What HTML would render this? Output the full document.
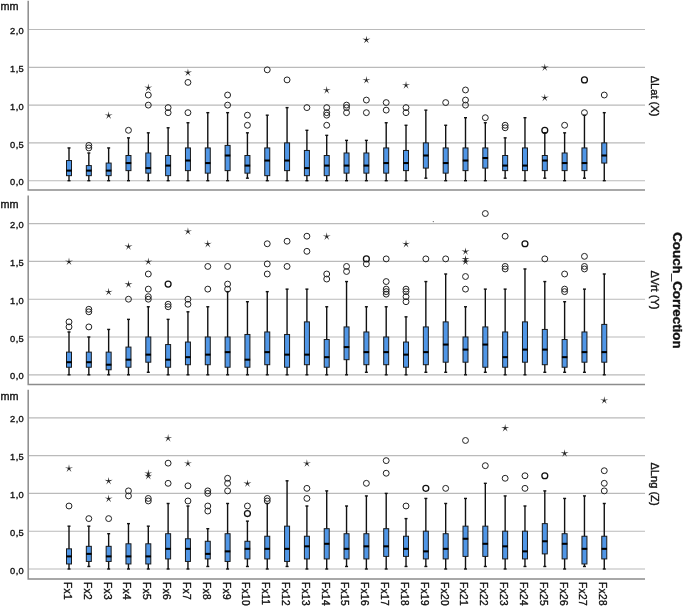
<!DOCTYPE html>
<html lang="en"><head><meta charset="utf-8"><title>Couch_Correction box plots</title>
<style>html,body{margin:0;padding:0;background:#fff}svg{display:block}text{font-family:"Liberation Sans","DejaVu Sans",sans-serif;fill:#111;stroke:#111;stroke-width:0.35}.g{stroke:#bababa;stroke-width:1.15}.ax{stroke:#8c8c8c;stroke-width:1.5;fill:none}.w{stroke:#111;stroke-width:1.4}.cap{stroke:#111;stroke-width:1.4}.b{fill:#5096e6;stroke:#1a1a1a;stroke-width:1}.m{stroke:#000;stroke-width:2.05}.c{fill:none;stroke:#222;stroke-width:1}.cb{stroke:#111;stroke-width:1.3}.st{fill:#222}.t{font-size:9.3px;text-anchor:end;letter-spacing:0.4px}.u{font-size:10.8px}.fx{font-size:10.2px;letter-spacing:0.3px}.pl{font-size:11.1px;text-anchor:middle}.ti{font-size:13.35px;font-weight:bold;text-anchor:middle}</style></head><body>
<svg width="685" height="606" viewBox="0 0 685 606">
<rect width="685" height="606" fill="#fff"/>
<line class="g" x1="28.2" y1="180.70" x2="645.0" y2="180.70"/>
<text class="t" x="24.2" y="185.30">0,0</text>
<line class="g" x1="28.2" y1="142.90" x2="645.0" y2="142.90"/>
<text class="t" x="24.2" y="147.50">0,5</text>
<line class="g" x1="28.2" y1="105.10" x2="645.0" y2="105.10"/>
<text class="t" x="24.2" y="109.70">1,0</text>
<line class="g" x1="28.2" y1="67.30" x2="645.0" y2="67.30"/>
<text class="t" x="24.2" y="71.90">1,5</text>
<line class="g" x1="28.2" y1="29.50" x2="645.0" y2="29.50"/>
<text class="t" x="24.2" y="34.10">2,0</text>
<text class="u" x="0.6" y="9.6">mm</text>
<path class="ax" d="M28.2 0.7 V190.1 H645.0"/>
<text class="pl" transform="translate(651.4 96.0) rotate(90)">ΔLat (X)</text>
<line class="w" x1="69.00" y1="180.70" x2="69.00" y2="147.94"/>
<line class="cap" x1="67.50" y1="180.70" x2="70.50" y2="180.70"/>
<line class="cap" x1="67.50" y1="147.94" x2="70.50" y2="147.94"/>
<rect class="b" x="66.50" y="160.54" width="5" height="15.12"/>
<line class="m" x1="66.25" y1="170.62" x2="71.75" y2="170.62"/>
<line class="w" x1="88.83" y1="180.70" x2="88.83" y2="152.98"/>
<line class="cap" x1="87.33" y1="180.70" x2="90.33" y2="180.70"/>
<line class="cap" x1="87.33" y1="152.98" x2="90.33" y2="152.98"/>
<rect class="b" x="86.33" y="165.58" width="5" height="10.08"/>
<line class="m" x1="86.08" y1="170.62" x2="91.58" y2="170.62"/>
<circle class="c" cx="88.83" cy="147.94" r="2.95"/>
<circle class="c" cx="88.83" cy="145.42" r="2.95"/>
<line class="w" x1="108.65" y1="180.70" x2="108.65" y2="147.94"/>
<line class="cap" x1="107.15" y1="180.70" x2="110.15" y2="180.70"/>
<line class="cap" x1="107.15" y1="147.94" x2="110.15" y2="147.94"/>
<rect class="b" x="106.15" y="163.06" width="5" height="12.60"/>
<line class="m" x1="105.90" y1="170.62" x2="111.40" y2="170.62"/>
<polygon class="st" points="108.65,111.28 109.24,114.67 112.64,114.18 109.60,115.79 111.12,118.88 108.65,116.48 106.18,118.88 107.70,115.79 104.66,114.18 108.06,114.67"/>
<line class="w" x1="128.47" y1="180.70" x2="128.47" y2="137.86"/>
<line class="cap" x1="126.97" y1="180.70" x2="129.97" y2="180.70"/>
<line class="cap" x1="126.97" y1="137.86" x2="129.97" y2="137.86"/>
<rect class="b" x="125.97" y="155.50" width="5" height="15.12"/>
<line class="m" x1="125.72" y1="163.06" x2="131.22" y2="163.06"/>
<circle class="c" cx="128.47" cy="130.30" r="2.95"/>
<line class="w" x1="148.30" y1="180.70" x2="148.30" y2="132.82"/>
<line class="cap" x1="146.80" y1="180.70" x2="149.80" y2="180.70"/>
<line class="cap" x1="146.80" y1="132.82" x2="149.80" y2="132.82"/>
<rect class="b" x="145.80" y="152.98" width="5" height="20.16"/>
<line class="m" x1="145.55" y1="168.10" x2="151.05" y2="168.10"/>
<circle class="c" cx="148.30" cy="105.10" r="2.95"/>
<circle class="c" cx="148.30" cy="95.02" r="2.95"/>
<polygon class="st" points="148.30,83.56 148.89,86.95 152.29,86.46 149.25,88.07 150.77,91.16 148.30,88.76 145.83,91.16 147.35,88.07 144.31,86.46 147.71,86.95"/>
<line class="w" x1="168.12" y1="180.70" x2="168.12" y2="127.78"/>
<line class="cap" x1="166.62" y1="180.70" x2="169.62" y2="180.70"/>
<line class="cap" x1="166.62" y1="127.78" x2="169.62" y2="127.78"/>
<rect class="b" x="165.62" y="155.50" width="5" height="20.16"/>
<line class="m" x1="165.38" y1="165.58" x2="170.88" y2="165.58"/>
<circle class="c" cx="168.12" cy="112.66" r="2.95"/>
<circle class="c" cx="168.12" cy="107.62" r="2.95"/>
<line class="w" x1="187.95" y1="180.70" x2="187.95" y2="122.74"/>
<line class="cap" x1="186.45" y1="180.70" x2="189.45" y2="180.70"/>
<line class="cap" x1="186.45" y1="122.74" x2="189.45" y2="122.74"/>
<rect class="b" x="185.45" y="147.94" width="5" height="22.68"/>
<line class="m" x1="185.20" y1="160.54" x2="190.70" y2="160.54"/>
<circle class="c" cx="187.95" cy="112.66" r="2.95"/>
<circle class="c" cx="187.95" cy="82.42" r="2.95"/>
<polygon class="st" points="187.95,68.44 188.54,71.83 191.94,71.34 188.90,72.95 190.42,76.04 187.95,73.64 185.48,76.04 187.00,72.95 183.96,71.34 187.36,71.83"/>
<line class="w" x1="207.78" y1="180.70" x2="207.78" y2="112.66"/>
<line class="cap" x1="206.28" y1="180.70" x2="209.28" y2="180.70"/>
<line class="cap" x1="206.28" y1="112.66" x2="209.28" y2="112.66"/>
<rect class="b" x="205.28" y="147.94" width="5" height="25.20"/>
<line class="m" x1="205.03" y1="163.06" x2="210.53" y2="163.06"/>
<line class="w" x1="227.60" y1="180.70" x2="227.60" y2="112.66"/>
<line class="cap" x1="226.10" y1="180.70" x2="229.10" y2="180.70"/>
<line class="cap" x1="226.10" y1="112.66" x2="229.10" y2="112.66"/>
<rect class="b" x="225.10" y="145.42" width="5" height="25.20"/>
<line class="m" x1="224.85" y1="155.50" x2="230.35" y2="155.50"/>
<circle class="c" cx="227.60" cy="105.10" r="2.95"/>
<circle class="c" cx="227.60" cy="95.02" r="2.95"/>
<line class="w" x1="247.42" y1="178.18" x2="247.42" y2="132.82"/>
<line class="cap" x1="245.92" y1="178.18" x2="248.92" y2="178.18"/>
<line class="cap" x1="245.92" y1="132.82" x2="248.92" y2="132.82"/>
<rect class="b" x="244.92" y="155.50" width="5" height="17.64"/>
<line class="m" x1="244.67" y1="165.58" x2="250.17" y2="165.58"/>
<circle class="c" cx="247.42" cy="125.26" r="2.95"/>
<circle class="c" cx="247.42" cy="115.18" r="2.95"/>
<line class="w" x1="267.25" y1="180.70" x2="267.25" y2="115.18"/>
<line class="cap" x1="265.75" y1="180.70" x2="268.75" y2="180.70"/>
<line class="cap" x1="265.75" y1="115.18" x2="268.75" y2="115.18"/>
<rect class="b" x="264.75" y="147.94" width="5" height="27.72"/>
<line class="m" x1="264.50" y1="160.54" x2="270.00" y2="160.54"/>
<circle class="c" cx="267.25" cy="69.82" r="2.95"/>
<line class="w" x1="287.07" y1="180.70" x2="287.07" y2="107.62"/>
<line class="cap" x1="285.57" y1="180.70" x2="288.57" y2="180.70"/>
<line class="cap" x1="285.57" y1="107.62" x2="288.57" y2="107.62"/>
<rect class="b" x="284.57" y="142.90" width="5" height="27.72"/>
<line class="m" x1="284.32" y1="160.54" x2="289.82" y2="160.54"/>
<circle class="c" cx="287.07" cy="79.90" r="2.95"/>
<line class="w" x1="306.90" y1="180.70" x2="306.90" y2="130.30"/>
<line class="cap" x1="305.40" y1="180.70" x2="308.40" y2="180.70"/>
<line class="cap" x1="305.40" y1="130.30" x2="308.40" y2="130.30"/>
<rect class="b" x="304.40" y="150.46" width="5" height="25.20"/>
<line class="m" x1="304.15" y1="168.10" x2="309.65" y2="168.10"/>
<circle class="c" cx="306.90" cy="107.62" r="2.95"/>
<line class="w" x1="326.72" y1="180.70" x2="326.72" y2="135.34"/>
<line class="cap" x1="325.22" y1="180.70" x2="328.22" y2="180.70"/>
<line class="cap" x1="325.22" y1="135.34" x2="328.22" y2="135.34"/>
<rect class="b" x="324.22" y="155.50" width="5" height="20.16"/>
<line class="m" x1="323.97" y1="165.58" x2="329.47" y2="165.58"/>
<circle class="c" cx="326.72" cy="125.26" r="2.95"/>
<circle class="c" cx="326.72" cy="115.18" r="2.95"/>
<circle class="c" cx="326.72" cy="112.66" r="2.95"/>
<circle class="c" cx="326.72" cy="107.62" r="2.95"/>
<polygon class="st" points="326.72,86.08 327.31,89.47 330.72,88.98 327.68,90.59 329.19,93.68 326.72,91.28 324.26,93.68 325.77,90.59 322.73,88.98 326.14,89.47"/>
<line class="w" x1="346.55" y1="180.70" x2="346.55" y2="140.38"/>
<line class="cap" x1="345.05" y1="180.70" x2="348.05" y2="180.70"/>
<line class="cap" x1="345.05" y1="140.38" x2="348.05" y2="140.38"/>
<rect class="b" x="344.05" y="152.98" width="5" height="20.16"/>
<line class="m" x1="343.80" y1="165.58" x2="349.30" y2="165.58"/>
<circle class="c" cx="346.55" cy="112.66" r="2.95"/>
<circle class="c" cx="346.55" cy="107.62" r="2.95"/>
<circle class="c" cx="346.55" cy="105.10" r="2.95"/>
<line class="w" x1="366.38" y1="180.70" x2="366.38" y2="140.38"/>
<line class="cap" x1="364.88" y1="180.70" x2="367.88" y2="180.70"/>
<line class="cap" x1="364.88" y1="140.38" x2="367.88" y2="140.38"/>
<rect class="b" x="363.88" y="152.98" width="5" height="20.16"/>
<line class="m" x1="363.62" y1="165.58" x2="369.12" y2="165.58"/>
<circle class="c" cx="366.38" cy="112.66" r="2.95"/>
<circle class="c" cx="366.38" cy="100.06" r="2.95"/>
<polygon class="st" points="366.38,76.00 366.96,79.39 370.37,78.90 367.33,80.51 368.84,83.60 366.38,81.20 363.91,83.60 365.42,80.51 362.38,78.90 365.79,79.39"/>
<polygon class="st" points="366.38,35.68 366.96,39.07 370.37,38.58 367.33,40.19 368.84,43.28 366.38,40.88 363.91,43.28 365.42,40.19 362.38,38.58 365.79,39.07"/>
<line class="w" x1="386.20" y1="180.70" x2="386.20" y2="122.74"/>
<line class="cap" x1="384.70" y1="180.70" x2="387.70" y2="180.70"/>
<line class="cap" x1="384.70" y1="122.74" x2="387.70" y2="122.74"/>
<rect class="b" x="383.70" y="147.94" width="5" height="25.20"/>
<line class="m" x1="383.45" y1="163.06" x2="388.95" y2="163.06"/>
<circle class="c" cx="386.20" cy="110.14" r="2.95"/>
<circle class="c" cx="386.20" cy="102.58" r="2.95"/>
<line class="w" x1="406.02" y1="180.70" x2="406.02" y2="125.26"/>
<line class="cap" x1="404.52" y1="180.70" x2="407.52" y2="180.70"/>
<line class="cap" x1="404.52" y1="125.26" x2="407.52" y2="125.26"/>
<rect class="b" x="403.52" y="150.46" width="5" height="20.16"/>
<line class="m" x1="403.27" y1="163.06" x2="408.77" y2="163.06"/>
<circle class="c" cx="406.02" cy="112.66" r="2.95"/>
<circle class="c" cx="406.02" cy="107.62" r="2.95"/>
<polygon class="st" points="406.02,81.04 406.61,84.43 410.02,83.94 406.98,85.55 408.49,88.64 406.02,86.24 403.56,88.64 405.07,85.55 402.03,83.94 405.44,84.43"/>
<line class="w" x1="425.85" y1="178.18" x2="425.85" y2="110.14"/>
<line class="cap" x1="424.35" y1="178.18" x2="427.35" y2="178.18"/>
<line class="cap" x1="424.35" y1="110.14" x2="427.35" y2="110.14"/>
<rect class="b" x="423.35" y="142.90" width="5" height="25.20"/>
<line class="m" x1="423.10" y1="155.50" x2="428.60" y2="155.50"/>
<line class="w" x1="445.68" y1="180.70" x2="445.68" y2="125.26"/>
<line class="cap" x1="444.18" y1="180.70" x2="447.18" y2="180.70"/>
<line class="cap" x1="444.18" y1="125.26" x2="447.18" y2="125.26"/>
<rect class="b" x="443.18" y="147.94" width="5" height="25.20"/>
<line class="m" x1="442.93" y1="163.06" x2="448.43" y2="163.06"/>
<circle class="c" cx="445.68" cy="102.58" r="2.95"/>
<line class="w" x1="465.50" y1="180.70" x2="465.50" y2="117.70"/>
<line class="cap" x1="464.00" y1="180.70" x2="467.00" y2="180.70"/>
<line class="cap" x1="464.00" y1="117.70" x2="467.00" y2="117.70"/>
<rect class="b" x="463.00" y="147.94" width="5" height="22.68"/>
<line class="m" x1="462.75" y1="160.54" x2="468.25" y2="160.54"/>
<circle class="c" cx="465.50" cy="105.10" r="2.95"/>
<circle class="c" cx="465.50" cy="100.06" r="2.95"/>
<circle class="c" cx="465.50" cy="89.98" r="2.95"/>
<line class="w" x1="485.32" y1="180.70" x2="485.32" y2="122.74"/>
<line class="cap" x1="483.82" y1="180.70" x2="486.82" y2="180.70"/>
<line class="cap" x1="483.82" y1="122.74" x2="486.82" y2="122.74"/>
<rect class="b" x="482.82" y="147.94" width="5" height="20.16"/>
<line class="m" x1="482.57" y1="158.02" x2="488.07" y2="158.02"/>
<circle class="c" cx="485.32" cy="117.70" r="2.95"/>
<line class="w" x1="505.15" y1="178.18" x2="505.15" y2="137.86"/>
<line class="cap" x1="503.65" y1="178.18" x2="506.65" y2="178.18"/>
<line class="cap" x1="503.65" y1="137.86" x2="506.65" y2="137.86"/>
<rect class="b" x="502.65" y="155.50" width="5" height="15.12"/>
<line class="m" x1="502.40" y1="165.58" x2="507.90" y2="165.58"/>
<circle class="c" cx="505.15" cy="127.78" r="2.95"/>
<circle class="c" cx="505.15" cy="125.26" r="2.95"/>
<line class="w" x1="524.97" y1="180.70" x2="524.97" y2="117.70"/>
<line class="cap" x1="523.47" y1="180.70" x2="526.47" y2="180.70"/>
<line class="cap" x1="523.47" y1="117.70" x2="526.47" y2="117.70"/>
<rect class="b" x="522.47" y="147.94" width="5" height="22.68"/>
<line class="m" x1="522.22" y1="165.58" x2="527.72" y2="165.58"/>
<line class="w" x1="544.80" y1="178.18" x2="544.80" y2="132.82"/>
<line class="cap" x1="543.30" y1="178.18" x2="546.30" y2="178.18"/>
<line class="cap" x1="543.30" y1="132.82" x2="546.30" y2="132.82"/>
<rect class="b" x="542.30" y="155.50" width="5" height="15.12"/>
<line class="m" x1="542.05" y1="160.54" x2="547.55" y2="160.54"/>
<circle class="c cb" cx="544.80" cy="130.30" r="2.95"/>
<polygon class="st" points="544.80,93.64 545.39,97.03 548.79,96.54 545.75,98.15 547.27,101.24 544.80,98.84 542.33,101.24 543.85,98.15 540.81,96.54 544.21,97.03"/>
<polygon class="st" points="544.80,63.40 545.39,66.79 548.79,66.30 545.75,67.91 547.27,71.00 544.80,68.60 542.33,71.00 543.85,67.91 540.81,66.30 544.21,66.79"/>
<line class="w" x1="564.62" y1="180.70" x2="564.62" y2="132.82"/>
<line class="cap" x1="563.12" y1="180.70" x2="566.12" y2="180.70"/>
<line class="cap" x1="563.12" y1="132.82" x2="566.12" y2="132.82"/>
<rect class="b" x="562.12" y="152.98" width="5" height="17.64"/>
<line class="m" x1="561.88" y1="163.06" x2="567.38" y2="163.06"/>
<circle class="c" cx="564.62" cy="125.26" r="2.95"/>
<line class="w" x1="584.45" y1="178.18" x2="584.45" y2="115.18"/>
<line class="cap" x1="582.95" y1="178.18" x2="585.95" y2="178.18"/>
<line class="cap" x1="582.95" y1="115.18" x2="585.95" y2="115.18"/>
<rect class="b" x="581.95" y="147.94" width="5" height="22.68"/>
<line class="m" x1="581.70" y1="163.06" x2="587.20" y2="163.06"/>
<circle class="c" cx="584.45" cy="112.66" r="2.95"/>
<circle class="c cb" cx="584.45" cy="79.90" r="2.95"/>
<line class="w" x1="604.27" y1="180.70" x2="604.27" y2="112.66"/>
<line class="cap" x1="602.77" y1="180.70" x2="605.77" y2="180.70"/>
<line class="cap" x1="602.77" y1="112.66" x2="605.77" y2="112.66"/>
<rect class="b" x="601.77" y="142.90" width="5" height="20.16"/>
<line class="m" x1="601.52" y1="155.50" x2="607.02" y2="155.50"/>
<circle class="c" cx="604.27" cy="95.02" r="2.95"/>
<line class="g" x1="28.2" y1="374.80" x2="645.0" y2="374.80"/>
<text class="t" x="24.2" y="379.40">0,0</text>
<line class="g" x1="28.2" y1="337.00" x2="645.0" y2="337.00"/>
<text class="t" x="24.2" y="341.60">0,5</text>
<line class="g" x1="28.2" y1="299.20" x2="645.0" y2="299.20"/>
<text class="t" x="24.2" y="303.80">1,0</text>
<line class="g" x1="28.2" y1="261.40" x2="645.0" y2="261.40"/>
<text class="t" x="24.2" y="266.00">1,5</text>
<line class="g" x1="28.2" y1="223.60" x2="645.0" y2="223.60"/>
<text class="t" x="24.2" y="228.20">2,0</text>
<text class="u" x="0.6" y="207.8">mm</text>
<path class="ax" d="M28.2 195.4 V384.5 H645.0"/>
<text class="pl" transform="translate(651.4 290.0) rotate(90)">ΔVrt (Y)</text>
<line class="w" x1="69.00" y1="374.80" x2="69.00" y2="331.96"/>
<line class="cap" x1="67.50" y1="374.80" x2="70.50" y2="374.80"/>
<line class="cap" x1="67.50" y1="331.96" x2="70.50" y2="331.96"/>
<rect class="b" x="66.50" y="352.12" width="5" height="15.12"/>
<line class="m" x1="66.25" y1="362.20" x2="71.75" y2="362.20"/>
<circle class="c" cx="69.00" cy="326.92" r="2.95"/>
<circle class="c" cx="69.00" cy="321.88" r="2.95"/>
<polygon class="st" points="69.00,257.50 69.59,260.89 72.99,260.40 69.95,262.01 71.47,265.10 69.00,262.70 66.53,265.10 68.05,262.01 65.01,260.40 68.41,260.89"/>
<line class="w" x1="88.83" y1="374.80" x2="88.83" y2="337.00"/>
<line class="cap" x1="87.33" y1="374.80" x2="90.33" y2="374.80"/>
<line class="cap" x1="87.33" y1="337.00" x2="90.33" y2="337.00"/>
<rect class="b" x="86.33" y="352.12" width="5" height="15.12"/>
<line class="m" x1="86.08" y1="362.20" x2="91.58" y2="362.20"/>
<circle class="c" cx="88.83" cy="326.92" r="2.95"/>
<circle class="c" cx="88.83" cy="311.80" r="2.95"/>
<circle class="c" cx="88.83" cy="309.28" r="2.95"/>
<line class="w" x1="108.65" y1="374.80" x2="108.65" y2="329.44"/>
<line class="cap" x1="107.15" y1="374.80" x2="110.15" y2="374.80"/>
<line class="cap" x1="107.15" y1="329.44" x2="110.15" y2="329.44"/>
<rect class="b" x="106.15" y="352.12" width="5" height="17.64"/>
<line class="m" x1="105.90" y1="364.72" x2="111.40" y2="364.72"/>
<polygon class="st" points="108.65,287.74 109.24,291.13 112.64,290.64 109.60,292.25 111.12,295.34 108.65,292.94 106.18,295.34 107.70,292.25 104.66,290.64 108.06,291.13"/>
<line class="w" x1="128.47" y1="374.80" x2="128.47" y2="319.36"/>
<line class="cap" x1="126.97" y1="374.80" x2="129.97" y2="374.80"/>
<line class="cap" x1="126.97" y1="319.36" x2="129.97" y2="319.36"/>
<rect class="b" x="125.97" y="347.08" width="5" height="20.16"/>
<line class="m" x1="125.72" y1="359.68" x2="131.22" y2="359.68"/>
<circle class="c" cx="128.47" cy="299.20" r="2.95"/>
<polygon class="st" points="128.47,280.18 129.06,283.57 132.47,283.08 129.43,284.69 130.94,287.78 128.47,285.38 126.01,287.78 127.52,284.69 124.48,283.08 127.89,283.57"/>
<polygon class="st" points="128.47,242.38 129.06,245.77 132.47,245.28 129.43,246.89 130.94,249.98 128.47,247.58 126.01,249.98 127.52,246.89 124.48,245.28 127.89,245.77"/>
<line class="w" x1="148.30" y1="372.28" x2="148.30" y2="306.76"/>
<line class="cap" x1="146.80" y1="372.28" x2="149.80" y2="372.28"/>
<line class="cap" x1="146.80" y1="306.76" x2="149.80" y2="306.76"/>
<rect class="b" x="145.80" y="337.00" width="5" height="25.20"/>
<line class="m" x1="145.55" y1="354.64" x2="151.05" y2="354.64"/>
<circle class="c" cx="148.30" cy="299.20" r="2.95"/>
<circle class="c" cx="148.30" cy="296.68" r="2.95"/>
<circle class="c" cx="148.30" cy="289.12" r="2.95"/>
<circle class="c" cx="148.30" cy="274.00" r="2.95"/>
<polygon class="st" points="148.30,257.50 148.89,260.89 152.29,260.40 149.25,262.01 150.77,265.10 148.30,262.70 145.83,265.10 147.35,262.01 144.31,260.40 147.71,260.89"/>
<line class="w" x1="168.12" y1="374.80" x2="168.12" y2="319.36"/>
<line class="cap" x1="166.62" y1="374.80" x2="169.62" y2="374.80"/>
<line class="cap" x1="166.62" y1="319.36" x2="169.62" y2="319.36"/>
<rect class="b" x="165.62" y="344.56" width="5" height="22.68"/>
<line class="m" x1="165.38" y1="359.68" x2="170.88" y2="359.68"/>
<circle class="c" cx="168.12" cy="306.76" r="2.95"/>
<circle class="c" cx="168.12" cy="304.24" r="2.95"/>
<circle class="c cb" cx="168.12" cy="284.08" r="2.95"/>
<line class="w" x1="187.95" y1="374.80" x2="187.95" y2="311.80"/>
<line class="cap" x1="186.45" y1="374.80" x2="189.45" y2="374.80"/>
<line class="cap" x1="186.45" y1="311.80" x2="189.45" y2="311.80"/>
<rect class="b" x="185.45" y="342.04" width="5" height="22.68"/>
<line class="m" x1="185.20" y1="357.16" x2="190.70" y2="357.16"/>
<circle class="c" cx="187.95" cy="304.24" r="2.95"/>
<circle class="c" cx="187.95" cy="299.20" r="2.95"/>
<polygon class="st" points="187.95,227.26 188.54,230.65 191.94,230.16 188.90,231.77 190.42,234.86 187.95,232.46 185.48,234.86 187.00,231.77 183.96,230.16 187.36,230.65"/>
<line class="w" x1="207.78" y1="374.80" x2="207.78" y2="306.76"/>
<line class="cap" x1="206.28" y1="374.80" x2="209.28" y2="374.80"/>
<line class="cap" x1="206.28" y1="306.76" x2="209.28" y2="306.76"/>
<rect class="b" x="205.28" y="337.00" width="5" height="27.72"/>
<line class="m" x1="205.03" y1="354.64" x2="210.53" y2="354.64"/>
<circle class="c" cx="207.78" cy="289.12" r="2.95"/>
<circle class="c" cx="207.78" cy="266.44" r="2.95"/>
<polygon class="st" points="207.78,239.86 208.36,243.25 211.77,242.76 208.73,244.37 210.24,247.46 207.78,245.06 205.31,247.46 206.82,244.37 203.78,242.76 207.19,243.25"/>
<line class="w" x1="227.60" y1="374.80" x2="227.60" y2="291.64"/>
<line class="cap" x1="226.10" y1="374.80" x2="229.10" y2="374.80"/>
<line class="cap" x1="226.10" y1="291.64" x2="229.10" y2="291.64"/>
<rect class="b" x="225.10" y="337.00" width="5" height="30.24"/>
<line class="m" x1="224.85" y1="352.12" x2="230.35" y2="352.12"/>
<circle class="c" cx="227.60" cy="289.12" r="2.95"/>
<circle class="c" cx="227.60" cy="284.08" r="2.95"/>
<circle class="c" cx="227.60" cy="266.44" r="2.95"/>
<line class="w" x1="247.42" y1="374.80" x2="247.42" y2="301.72"/>
<line class="cap" x1="245.92" y1="374.80" x2="248.92" y2="374.80"/>
<line class="cap" x1="245.92" y1="301.72" x2="248.92" y2="301.72"/>
<rect class="b" x="244.92" y="334.48" width="5" height="32.76"/>
<line class="m" x1="244.67" y1="359.68" x2="250.17" y2="359.68"/>
<line class="w" x1="267.25" y1="374.80" x2="267.25" y2="291.64"/>
<line class="cap" x1="265.75" y1="374.80" x2="268.75" y2="374.80"/>
<line class="cap" x1="265.75" y1="291.64" x2="268.75" y2="291.64"/>
<rect class="b" x="264.75" y="331.96" width="5" height="32.76"/>
<line class="m" x1="264.50" y1="352.12" x2="270.00" y2="352.12"/>
<circle class="c" cx="267.25" cy="274.00" r="2.95"/>
<circle class="c" cx="267.25" cy="263.92" r="2.95"/>
<circle class="c" cx="267.25" cy="243.76" r="2.95"/>
<line class="w" x1="287.07" y1="374.80" x2="287.07" y2="289.12"/>
<line class="cap" x1="285.57" y1="374.80" x2="288.57" y2="374.80"/>
<line class="cap" x1="285.57" y1="289.12" x2="288.57" y2="289.12"/>
<rect class="b" x="284.57" y="334.48" width="5" height="32.76"/>
<line class="m" x1="284.32" y1="354.64" x2="289.82" y2="354.64"/>
<circle class="c" cx="287.07" cy="266.44" r="2.95"/>
<circle class="c" cx="287.07" cy="241.24" r="2.95"/>
<line class="w" x1="306.90" y1="374.80" x2="306.90" y2="289.12"/>
<line class="cap" x1="305.40" y1="374.80" x2="308.40" y2="374.80"/>
<line class="cap" x1="305.40" y1="289.12" x2="308.40" y2="289.12"/>
<rect class="b" x="304.40" y="321.88" width="5" height="42.84"/>
<line class="m" x1="304.15" y1="354.64" x2="309.65" y2="354.64"/>
<circle class="c" cx="306.90" cy="251.32" r="2.95"/>
<circle class="c" cx="306.90" cy="236.20" r="2.95"/>
<line class="w" x1="326.72" y1="374.80" x2="326.72" y2="306.76"/>
<line class="cap" x1="325.22" y1="374.80" x2="328.22" y2="374.80"/>
<line class="cap" x1="325.22" y1="306.76" x2="328.22" y2="306.76"/>
<rect class="b" x="324.22" y="339.52" width="5" height="27.72"/>
<line class="m" x1="323.97" y1="357.16" x2="329.47" y2="357.16"/>
<circle class="c" cx="326.72" cy="279.04" r="2.95"/>
<circle class="c" cx="326.72" cy="274.00" r="2.95"/>
<polygon class="st" points="326.72,232.30 327.31,235.69 330.72,235.20 327.68,236.81 329.19,239.90 326.72,237.50 324.26,239.90 325.77,236.81 322.73,235.20 326.14,235.69"/>
<line class="w" x1="346.55" y1="374.80" x2="346.55" y2="281.56"/>
<line class="cap" x1="345.05" y1="374.80" x2="348.05" y2="374.80"/>
<line class="cap" x1="345.05" y1="281.56" x2="348.05" y2="281.56"/>
<rect class="b" x="344.05" y="326.92" width="5" height="32.76"/>
<line class="m" x1="343.80" y1="347.08" x2="349.30" y2="347.08"/>
<circle class="c" cx="346.55" cy="271.48" r="2.95"/>
<circle class="c" cx="346.55" cy="266.44" r="2.95"/>
<line class="w" x1="366.38" y1="372.28" x2="366.38" y2="306.76"/>
<line class="cap" x1="364.88" y1="372.28" x2="367.88" y2="372.28"/>
<line class="cap" x1="364.88" y1="306.76" x2="367.88" y2="306.76"/>
<rect class="b" x="363.88" y="331.96" width="5" height="32.76"/>
<line class="m" x1="363.62" y1="352.12" x2="369.12" y2="352.12"/>
<circle class="c" cx="366.38" cy="263.92" r="2.95"/>
<circle class="c cb" cx="366.38" cy="258.88" r="2.95"/>
<line class="w" x1="386.20" y1="374.80" x2="386.20" y2="306.76"/>
<line class="cap" x1="384.70" y1="374.80" x2="387.70" y2="374.80"/>
<line class="cap" x1="384.70" y1="306.76" x2="387.70" y2="306.76"/>
<rect class="b" x="383.70" y="337.00" width="5" height="27.72"/>
<line class="m" x1="383.45" y1="352.12" x2="388.95" y2="352.12"/>
<circle class="c" cx="386.20" cy="294.16" r="2.95"/>
<circle class="c" cx="386.20" cy="291.64" r="2.95"/>
<circle class="c" cx="386.20" cy="289.12" r="2.95"/>
<circle class="c" cx="386.20" cy="281.56" r="2.95"/>
<circle class="c" cx="386.20" cy="258.88" r="2.95"/>
<line class="w" x1="406.02" y1="374.80" x2="406.02" y2="316.84"/>
<line class="cap" x1="404.52" y1="374.80" x2="407.52" y2="374.80"/>
<line class="cap" x1="404.52" y1="316.84" x2="407.52" y2="316.84"/>
<rect class="b" x="403.52" y="342.04" width="5" height="25.20"/>
<line class="m" x1="403.27" y1="354.64" x2="408.77" y2="354.64"/>
<circle class="c" cx="406.02" cy="301.72" r="2.95"/>
<circle class="c" cx="406.02" cy="296.68" r="2.95"/>
<circle class="c" cx="406.02" cy="291.64" r="2.95"/>
<circle class="c" cx="406.02" cy="289.12" r="2.95"/>
<polygon class="st" points="406.02,239.86 406.61,243.25 410.02,242.76 406.98,244.37 408.49,247.46 406.02,245.06 403.56,247.46 405.07,244.37 402.03,242.76 405.44,243.25"/>
<line class="w" x1="425.85" y1="372.28" x2="425.85" y2="281.56"/>
<line class="cap" x1="424.35" y1="372.28" x2="427.35" y2="372.28"/>
<line class="cap" x1="424.35" y1="281.56" x2="427.35" y2="281.56"/>
<rect class="b" x="423.35" y="326.92" width="5" height="37.80"/>
<line class="m" x1="423.10" y1="352.12" x2="428.60" y2="352.12"/>
<circle class="c" cx="425.85" cy="258.88" r="2.95"/>
<line class="w" x1="445.68" y1="372.28" x2="445.68" y2="274.00"/>
<line class="cap" x1="444.18" y1="372.28" x2="447.18" y2="372.28"/>
<line class="cap" x1="444.18" y1="274.00" x2="447.18" y2="274.00"/>
<rect class="b" x="443.18" y="321.88" width="5" height="40.32"/>
<line class="m" x1="442.93" y1="344.56" x2="448.43" y2="344.56"/>
<circle class="c" cx="445.68" cy="258.88" r="2.95"/>
<line class="w" x1="465.50" y1="374.80" x2="465.50" y2="306.76"/>
<line class="cap" x1="464.00" y1="374.80" x2="467.00" y2="374.80"/>
<line class="cap" x1="464.00" y1="306.76" x2="467.00" y2="306.76"/>
<rect class="b" x="463.00" y="337.00" width="5" height="25.20"/>
<line class="m" x1="462.75" y1="349.60" x2="468.25" y2="349.60"/>
<circle class="c" cx="465.50" cy="289.12" r="2.95"/>
<circle class="c" cx="465.50" cy="276.52" r="2.95"/>
<polygon class="st" points="465.50,257.50 466.09,260.89 469.49,260.40 466.45,262.01 467.97,265.10 465.50,262.70 463.03,265.10 464.55,262.01 461.51,260.40 464.91,260.89"/>
<polygon class="st" points="465.50,254.98 466.09,258.37 469.49,257.88 466.45,259.49 467.97,262.58 465.50,260.18 463.03,262.58 464.55,259.49 461.51,257.88 464.91,258.37"/>
<polygon class="st" points="465.50,247.42 466.09,250.81 469.49,250.32 466.45,251.93 467.97,255.02 465.50,252.62 463.03,255.02 464.55,251.93 461.51,250.32 464.91,250.81"/>
<line class="w" x1="485.32" y1="372.28" x2="485.32" y2="289.12"/>
<line class="cap" x1="483.82" y1="372.28" x2="486.82" y2="372.28"/>
<line class="cap" x1="483.82" y1="289.12" x2="486.82" y2="289.12"/>
<rect class="b" x="482.82" y="326.92" width="5" height="40.32"/>
<line class="m" x1="482.57" y1="344.56" x2="488.07" y2="344.56"/>
<circle class="c" cx="485.32" cy="213.52" r="2.95"/>
<line class="w" x1="505.15" y1="374.80" x2="505.15" y2="289.12"/>
<line class="cap" x1="503.65" y1="374.80" x2="506.65" y2="374.80"/>
<line class="cap" x1="503.65" y1="289.12" x2="506.65" y2="289.12"/>
<rect class="b" x="502.65" y="331.96" width="5" height="35.28"/>
<line class="m" x1="502.40" y1="357.16" x2="507.90" y2="357.16"/>
<circle class="c" cx="505.15" cy="268.96" r="2.95"/>
<circle class="c" cx="505.15" cy="266.44" r="2.95"/>
<circle class="c" cx="505.15" cy="236.20" r="2.95"/>
<line class="w" x1="524.97" y1="374.80" x2="524.97" y2="268.96"/>
<line class="cap" x1="523.47" y1="374.80" x2="526.47" y2="374.80"/>
<line class="cap" x1="523.47" y1="268.96" x2="526.47" y2="268.96"/>
<rect class="b" x="522.47" y="321.88" width="5" height="40.32"/>
<line class="m" x1="522.22" y1="349.60" x2="527.72" y2="349.60"/>
<circle class="c cb" cx="524.97" cy="243.76" r="2.95"/>
<line class="w" x1="544.80" y1="372.28" x2="544.80" y2="281.56"/>
<line class="cap" x1="543.30" y1="372.28" x2="546.30" y2="372.28"/>
<line class="cap" x1="543.30" y1="281.56" x2="546.30" y2="281.56"/>
<rect class="b" x="542.30" y="329.44" width="5" height="35.28"/>
<line class="m" x1="542.05" y1="349.60" x2="547.55" y2="349.60"/>
<circle class="c" cx="544.80" cy="258.88" r="2.95"/>
<line class="w" x1="564.62" y1="372.28" x2="564.62" y2="301.72"/>
<line class="cap" x1="563.12" y1="372.28" x2="566.12" y2="372.28"/>
<line class="cap" x1="563.12" y1="301.72" x2="566.12" y2="301.72"/>
<rect class="b" x="562.12" y="339.52" width="5" height="27.72"/>
<line class="m" x1="561.88" y1="357.16" x2="567.38" y2="357.16"/>
<circle class="c" cx="564.62" cy="291.64" r="2.95"/>
<circle class="c" cx="564.62" cy="289.12" r="2.95"/>
<circle class="c" cx="564.62" cy="274.00" r="2.95"/>
<line class="w" x1="584.45" y1="372.28" x2="584.45" y2="289.12"/>
<line class="cap" x1="582.95" y1="372.28" x2="585.95" y2="372.28"/>
<line class="cap" x1="582.95" y1="289.12" x2="585.95" y2="289.12"/>
<rect class="b" x="581.95" y="331.96" width="5" height="30.24"/>
<line class="m" x1="581.70" y1="352.12" x2="587.20" y2="352.12"/>
<circle class="c" cx="584.45" cy="268.96" r="2.95"/>
<circle class="c" cx="584.45" cy="266.44" r="2.95"/>
<circle class="c" cx="584.45" cy="256.36" r="2.95"/>
<line class="w" x1="604.27" y1="374.80" x2="604.27" y2="274.00"/>
<line class="cap" x1="602.77" y1="374.80" x2="605.77" y2="374.80"/>
<line class="cap" x1="602.77" y1="274.00" x2="605.77" y2="274.00"/>
<rect class="b" x="601.77" y="324.40" width="5" height="37.80"/>
<line class="m" x1="601.52" y1="352.12" x2="607.02" y2="352.12"/>
<line class="g" x1="28.2" y1="569.00" x2="645.0" y2="569.00"/>
<text class="t" x="24.2" y="573.60">0,0</text>
<line class="g" x1="28.2" y1="531.20" x2="645.0" y2="531.20"/>
<text class="t" x="24.2" y="535.80">0,5</text>
<line class="g" x1="28.2" y1="493.40" x2="645.0" y2="493.40"/>
<text class="t" x="24.2" y="498.00">1,0</text>
<line class="g" x1="28.2" y1="455.60" x2="645.0" y2="455.60"/>
<text class="t" x="24.2" y="460.20">1,5</text>
<line class="g" x1="28.2" y1="417.80" x2="645.0" y2="417.80"/>
<text class="t" x="24.2" y="422.40">2,0</text>
<text class="u" x="0.6" y="400.0">mm</text>
<path class="ax" d="M28.2 389.8 V578.9 H645.0"/>
<text class="pl" transform="translate(651.4 484.0) rotate(90)">ΔLng (Z)</text>
<line class="w" x1="69.00" y1="569.00" x2="69.00" y2="526.16"/>
<line class="cap" x1="67.50" y1="569.00" x2="70.50" y2="569.00"/>
<line class="cap" x1="67.50" y1="526.16" x2="70.50" y2="526.16"/>
<rect class="b" x="66.50" y="548.84" width="5" height="15.12"/>
<line class="m" x1="66.25" y1="556.40" x2="71.75" y2="556.40"/>
<circle class="c" cx="69.00" cy="506.00" r="2.95"/>
<polygon class="st" points="69.00,464.30 69.59,467.69 72.99,467.20 69.95,468.81 71.47,471.90 69.00,469.50 66.53,471.90 68.05,468.81 65.01,467.20 68.41,467.69"/>
<line class="w" x1="88.83" y1="566.48" x2="88.83" y2="526.16"/>
<line class="cap" x1="87.33" y1="566.48" x2="90.33" y2="566.48"/>
<line class="cap" x1="87.33" y1="526.16" x2="90.33" y2="526.16"/>
<rect class="b" x="86.33" y="546.32" width="5" height="15.12"/>
<line class="m" x1="86.08" y1="553.88" x2="91.58" y2="553.88"/>
<circle class="c" cx="88.83" cy="518.60" r="2.95"/>
<line class="w" x1="108.65" y1="569.00" x2="108.65" y2="533.72"/>
<line class="cap" x1="107.15" y1="569.00" x2="110.15" y2="569.00"/>
<line class="cap" x1="107.15" y1="533.72" x2="110.15" y2="533.72"/>
<rect class="b" x="106.15" y="546.32" width="5" height="15.12"/>
<line class="m" x1="105.90" y1="556.40" x2="111.40" y2="556.40"/>
<circle class="c" cx="108.65" cy="518.60" r="2.95"/>
<polygon class="st" points="108.65,494.54 109.24,497.93 112.64,497.44 109.60,499.05 111.12,502.14 108.65,499.74 106.18,502.14 107.70,499.05 104.66,497.44 108.06,497.93"/>
<polygon class="st" points="108.65,476.90 109.24,480.29 112.64,479.80 109.60,481.41 111.12,484.50 108.65,482.10 106.18,484.50 107.70,481.41 104.66,479.80 108.06,480.29"/>
<line class="w" x1="128.47" y1="569.00" x2="128.47" y2="523.64"/>
<line class="cap" x1="126.97" y1="569.00" x2="129.97" y2="569.00"/>
<line class="cap" x1="126.97" y1="523.64" x2="129.97" y2="523.64"/>
<rect class="b" x="125.97" y="543.80" width="5" height="20.16"/>
<line class="m" x1="125.72" y1="556.40" x2="131.22" y2="556.40"/>
<circle class="c" cx="128.47" cy="495.92" r="2.95"/>
<circle class="c" cx="128.47" cy="490.88" r="2.95"/>
<line class="w" x1="148.30" y1="569.00" x2="148.30" y2="526.16"/>
<line class="cap" x1="146.80" y1="569.00" x2="149.80" y2="569.00"/>
<line class="cap" x1="146.80" y1="526.16" x2="149.80" y2="526.16"/>
<rect class="b" x="145.80" y="543.80" width="5" height="20.16"/>
<line class="m" x1="145.55" y1="556.40" x2="151.05" y2="556.40"/>
<circle class="c" cx="148.30" cy="500.96" r="2.95"/>
<circle class="c" cx="148.30" cy="498.44" r="2.95"/>
<polygon class="st" points="148.30,471.86 148.89,475.25 152.29,474.76 149.25,476.37 150.77,479.46 148.30,477.06 145.83,479.46 147.35,476.37 144.31,474.76 147.71,475.25"/>
<polygon class="st" points="148.30,469.34 148.89,472.73 152.29,472.24 149.25,473.85 150.77,476.94 148.30,474.54 145.83,476.94 147.35,473.85 144.31,472.24 147.71,472.73"/>
<line class="w" x1="168.12" y1="569.00" x2="168.12" y2="503.48"/>
<line class="cap" x1="166.62" y1="569.00" x2="169.62" y2="569.00"/>
<line class="cap" x1="166.62" y1="503.48" x2="169.62" y2="503.48"/>
<rect class="b" x="165.62" y="533.72" width="5" height="25.20"/>
<line class="m" x1="165.38" y1="548.84" x2="170.88" y2="548.84"/>
<circle class="c" cx="168.12" cy="483.32" r="2.95"/>
<circle class="c" cx="168.12" cy="463.16" r="2.95"/>
<polygon class="st" points="168.12,434.06 168.71,437.45 172.12,436.96 169.08,438.57 170.59,441.66 168.12,439.26 165.66,441.66 167.17,438.57 164.13,436.96 167.54,437.45"/>
<line class="w" x1="187.95" y1="569.00" x2="187.95" y2="506.00"/>
<line class="cap" x1="186.45" y1="569.00" x2="189.45" y2="569.00"/>
<line class="cap" x1="186.45" y1="506.00" x2="189.45" y2="506.00"/>
<rect class="b" x="185.45" y="538.76" width="5" height="22.68"/>
<line class="m" x1="185.20" y1="548.84" x2="190.70" y2="548.84"/>
<circle class="c" cx="187.95" cy="500.96" r="2.95"/>
<circle class="c" cx="187.95" cy="485.84" r="2.95"/>
<polygon class="st" points="187.95,459.26 188.54,462.65 191.94,462.16 188.90,463.77 190.42,466.86 187.95,464.46 185.48,466.86 187.00,463.77 183.96,462.16 187.36,462.65"/>
<line class="w" x1="207.78" y1="566.48" x2="207.78" y2="528.68"/>
<line class="cap" x1="206.28" y1="566.48" x2="209.28" y2="566.48"/>
<line class="cap" x1="206.28" y1="528.68" x2="209.28" y2="528.68"/>
<rect class="b" x="205.28" y="541.28" width="5" height="17.64"/>
<line class="m" x1="205.03" y1="553.88" x2="210.53" y2="553.88"/>
<circle class="c" cx="207.78" cy="511.04" r="2.95"/>
<circle class="c" cx="207.78" cy="506.00" r="2.95"/>
<circle class="c" cx="207.78" cy="493.40" r="2.95"/>
<circle class="c" cx="207.78" cy="490.88" r="2.95"/>
<line class="w" x1="227.60" y1="569.00" x2="227.60" y2="503.48"/>
<line class="cap" x1="226.10" y1="569.00" x2="229.10" y2="569.00"/>
<line class="cap" x1="226.10" y1="503.48" x2="229.10" y2="503.48"/>
<rect class="b" x="225.10" y="533.72" width="5" height="27.72"/>
<line class="m" x1="224.85" y1="551.36" x2="230.35" y2="551.36"/>
<circle class="c" cx="227.60" cy="490.88" r="2.95"/>
<circle class="c" cx="227.60" cy="483.32" r="2.95"/>
<circle class="c" cx="227.60" cy="478.28" r="2.95"/>
<line class="w" x1="247.42" y1="566.48" x2="247.42" y2="521.12"/>
<line class="cap" x1="245.92" y1="566.48" x2="248.92" y2="566.48"/>
<line class="cap" x1="245.92" y1="521.12" x2="248.92" y2="521.12"/>
<rect class="b" x="244.92" y="541.28" width="5" height="17.64"/>
<line class="m" x1="244.67" y1="548.84" x2="250.17" y2="548.84"/>
<circle class="c cb" cx="247.42" cy="513.56" r="2.95"/>
<circle class="c" cx="247.42" cy="506.00" r="2.95"/>
<polygon class="st" points="247.42,479.42 248.01,482.81 251.42,482.32 248.38,483.93 249.89,487.02 247.42,484.62 244.96,487.02 246.47,483.93 243.43,482.32 246.84,482.81"/>
<line class="w" x1="267.25" y1="569.00" x2="267.25" y2="503.48"/>
<line class="cap" x1="265.75" y1="569.00" x2="268.75" y2="569.00"/>
<line class="cap" x1="265.75" y1="503.48" x2="268.75" y2="503.48"/>
<rect class="b" x="264.75" y="536.24" width="5" height="22.68"/>
<line class="m" x1="264.50" y1="548.84" x2="270.00" y2="548.84"/>
<circle class="c" cx="267.25" cy="500.96" r="2.95"/>
<circle class="c" cx="267.25" cy="498.44" r="2.95"/>
<line class="w" x1="287.07" y1="566.48" x2="287.07" y2="480.80"/>
<line class="cap" x1="285.57" y1="566.48" x2="288.57" y2="566.48"/>
<line class="cap" x1="285.57" y1="480.80" x2="288.57" y2="480.80"/>
<rect class="b" x="284.57" y="526.16" width="5" height="35.28"/>
<line class="m" x1="284.32" y1="548.84" x2="289.82" y2="548.84"/>
<line class="w" x1="306.90" y1="569.00" x2="306.90" y2="506.00"/>
<line class="cap" x1="305.40" y1="569.00" x2="308.40" y2="569.00"/>
<line class="cap" x1="305.40" y1="506.00" x2="308.40" y2="506.00"/>
<rect class="b" x="304.40" y="536.24" width="5" height="22.68"/>
<line class="m" x1="304.15" y1="546.32" x2="309.65" y2="546.32"/>
<circle class="c" cx="306.90" cy="498.44" r="2.95"/>
<circle class="c" cx="306.90" cy="488.36" r="2.95"/>
<polygon class="st" points="306.90,459.26 307.49,462.65 310.89,462.16 307.85,463.77 309.37,466.86 306.90,464.46 304.43,466.86 305.95,463.77 302.91,462.16 306.31,462.65"/>
<line class="w" x1="326.72" y1="569.00" x2="326.72" y2="490.88"/>
<line class="cap" x1="325.22" y1="569.00" x2="328.22" y2="569.00"/>
<line class="cap" x1="325.22" y1="490.88" x2="328.22" y2="490.88"/>
<rect class="b" x="324.22" y="528.68" width="5" height="30.24"/>
<line class="m" x1="323.97" y1="543.80" x2="329.47" y2="543.80"/>
<line class="w" x1="346.55" y1="566.48" x2="346.55" y2="506.00"/>
<line class="cap" x1="345.05" y1="566.48" x2="348.05" y2="566.48"/>
<line class="cap" x1="345.05" y1="506.00" x2="348.05" y2="506.00"/>
<rect class="b" x="344.05" y="533.72" width="5" height="25.20"/>
<line class="m" x1="343.80" y1="548.84" x2="349.30" y2="548.84"/>
<line class="w" x1="366.38" y1="569.00" x2="366.38" y2="495.92"/>
<line class="cap" x1="364.88" y1="569.00" x2="367.88" y2="569.00"/>
<line class="cap" x1="364.88" y1="495.92" x2="367.88" y2="495.92"/>
<rect class="b" x="363.88" y="533.72" width="5" height="25.20"/>
<line class="m" x1="363.62" y1="546.32" x2="369.12" y2="546.32"/>
<circle class="c" cx="366.38" cy="483.32" r="2.95"/>
<line class="w" x1="386.20" y1="569.00" x2="386.20" y2="493.40"/>
<line class="cap" x1="384.70" y1="569.00" x2="387.70" y2="569.00"/>
<line class="cap" x1="384.70" y1="493.40" x2="387.70" y2="493.40"/>
<rect class="b" x="383.70" y="528.68" width="5" height="27.72"/>
<line class="m" x1="383.45" y1="546.32" x2="388.95" y2="546.32"/>
<circle class="c" cx="386.20" cy="473.24" r="2.95"/>
<circle class="c" cx="386.20" cy="460.64" r="2.95"/>
<line class="w" x1="406.02" y1="566.48" x2="406.02" y2="518.60"/>
<line class="cap" x1="404.52" y1="566.48" x2="407.52" y2="566.48"/>
<line class="cap" x1="404.52" y1="518.60" x2="407.52" y2="518.60"/>
<rect class="b" x="403.52" y="536.24" width="5" height="20.16"/>
<line class="m" x1="403.27" y1="548.84" x2="408.77" y2="548.84"/>
<circle class="c" cx="406.02" cy="506.00" r="2.95"/>
<line class="w" x1="425.85" y1="566.48" x2="425.85" y2="498.44"/>
<line class="cap" x1="424.35" y1="566.48" x2="427.35" y2="566.48"/>
<line class="cap" x1="424.35" y1="498.44" x2="427.35" y2="498.44"/>
<rect class="b" x="423.35" y="531.20" width="5" height="27.72"/>
<line class="m" x1="423.10" y1="551.36" x2="428.60" y2="551.36"/>
<circle class="c cb" cx="425.85" cy="488.36" r="2.95"/>
<line class="w" x1="445.68" y1="569.00" x2="445.68" y2="503.48"/>
<line class="cap" x1="444.18" y1="569.00" x2="447.18" y2="569.00"/>
<line class="cap" x1="444.18" y1="503.48" x2="447.18" y2="503.48"/>
<rect class="b" x="443.18" y="533.72" width="5" height="25.20"/>
<line class="m" x1="442.93" y1="548.84" x2="448.43" y2="548.84"/>
<circle class="c" cx="445.68" cy="488.36" r="2.95"/>
<line class="w" x1="465.50" y1="569.00" x2="465.50" y2="498.44"/>
<line class="cap" x1="464.00" y1="569.00" x2="467.00" y2="569.00"/>
<line class="cap" x1="464.00" y1="498.44" x2="467.00" y2="498.44"/>
<rect class="b" x="463.00" y="526.16" width="5" height="30.24"/>
<line class="m" x1="462.75" y1="538.76" x2="468.25" y2="538.76"/>
<circle class="c" cx="465.50" cy="440.48" r="2.95"/>
<line class="w" x1="485.32" y1="566.48" x2="485.32" y2="483.32"/>
<line class="cap" x1="483.82" y1="566.48" x2="486.82" y2="566.48"/>
<line class="cap" x1="483.82" y1="483.32" x2="486.82" y2="483.32"/>
<rect class="b" x="482.82" y="526.16" width="5" height="30.24"/>
<line class="m" x1="482.57" y1="543.80" x2="488.07" y2="543.80"/>
<circle class="c" cx="485.32" cy="465.68" r="2.95"/>
<line class="w" x1="505.15" y1="569.00" x2="505.15" y2="495.92"/>
<line class="cap" x1="503.65" y1="569.00" x2="506.65" y2="569.00"/>
<line class="cap" x1="503.65" y1="495.92" x2="506.65" y2="495.92"/>
<rect class="b" x="502.65" y="531.20" width="5" height="27.72"/>
<line class="m" x1="502.40" y1="546.32" x2="507.90" y2="546.32"/>
<circle class="c" cx="505.15" cy="478.28" r="2.95"/>
<polygon class="st" points="505.15,423.98 505.74,427.37 509.14,426.88 506.10,428.49 507.62,431.58 505.15,429.18 502.68,431.58 504.20,428.49 501.16,426.88 504.56,427.37"/>
<line class="w" x1="524.97" y1="566.48" x2="524.97" y2="506.00"/>
<line class="cap" x1="523.47" y1="566.48" x2="526.47" y2="566.48"/>
<line class="cap" x1="523.47" y1="506.00" x2="526.47" y2="506.00"/>
<rect class="b" x="522.47" y="531.20" width="5" height="27.72"/>
<line class="m" x1="522.22" y1="551.36" x2="527.72" y2="551.36"/>
<circle class="c" cx="524.97" cy="488.36" r="2.95"/>
<circle class="c" cx="524.97" cy="475.76" r="2.95"/>
<line class="w" x1="544.80" y1="566.48" x2="544.80" y2="490.88"/>
<line class="cap" x1="543.30" y1="566.48" x2="546.30" y2="566.48"/>
<line class="cap" x1="543.30" y1="490.88" x2="546.30" y2="490.88"/>
<rect class="b" x="542.30" y="523.64" width="5" height="30.24"/>
<line class="m" x1="542.05" y1="541.28" x2="547.55" y2="541.28"/>
<circle class="c cb" cx="544.80" cy="475.76" r="2.95"/>
<line class="w" x1="564.62" y1="569.00" x2="564.62" y2="498.44"/>
<line class="cap" x1="563.12" y1="569.00" x2="566.12" y2="569.00"/>
<line class="cap" x1="563.12" y1="498.44" x2="566.12" y2="498.44"/>
<rect class="b" x="562.12" y="533.72" width="5" height="25.20"/>
<line class="m" x1="561.88" y1="543.80" x2="567.38" y2="543.80"/>
<polygon class="st" points="564.62,449.18 565.21,452.57 568.62,452.08 565.58,453.69 567.09,456.78 564.62,454.38 562.16,456.78 563.67,453.69 560.63,452.08 564.04,452.57"/>
<line class="w" x1="584.45" y1="566.48" x2="584.45" y2="495.92"/>
<line class="cap" x1="582.95" y1="566.48" x2="585.95" y2="566.48"/>
<line class="cap" x1="582.95" y1="495.92" x2="585.95" y2="495.92"/>
<rect class="b" x="581.95" y="536.24" width="5" height="27.72"/>
<line class="m" x1="581.70" y1="548.84" x2="587.20" y2="548.84"/>
<line class="w" x1="604.27" y1="569.00" x2="604.27" y2="503.48"/>
<line class="cap" x1="602.77" y1="569.00" x2="605.77" y2="569.00"/>
<line class="cap" x1="602.77" y1="503.48" x2="605.77" y2="503.48"/>
<rect class="b" x="601.77" y="536.24" width="5" height="22.68"/>
<line class="m" x1="601.52" y1="548.84" x2="607.02" y2="548.84"/>
<circle class="c" cx="604.27" cy="490.88" r="2.95"/>
<circle class="c" cx="604.27" cy="483.32" r="2.95"/>
<circle class="c" cx="604.27" cy="470.72" r="2.95"/>
<polygon class="st" points="604.27,396.26 604.86,399.65 608.27,399.16 605.23,400.77 606.74,403.86 604.27,401.46 601.81,403.86 603.32,400.77 600.28,399.16 603.69,399.65"/>
<circle cx="433.3" cy="221.6" r="0.6" fill="#555"/>
<text class="fx" transform="translate(63.90 582.0) rotate(90)">Fx1</text>
<text class="fx" transform="translate(83.73 582.0) rotate(90)">Fx2</text>
<text class="fx" transform="translate(103.55 582.0) rotate(90)">Fx3</text>
<text class="fx" transform="translate(123.38 582.0) rotate(90)">Fx4</text>
<text class="fx" transform="translate(143.20 582.0) rotate(90)">Fx5</text>
<text class="fx" transform="translate(163.03 582.0) rotate(90)">Fx6</text>
<text class="fx" transform="translate(182.85 582.0) rotate(90)">Fx7</text>
<text class="fx" transform="translate(202.68 582.0) rotate(90)">Fx8</text>
<text class="fx" transform="translate(222.50 582.0) rotate(90)">Fx9</text>
<text class="fx" transform="translate(242.32 582.0) rotate(90)">Fx10</text>
<text class="fx" transform="translate(262.15 582.0) rotate(90)">Fx11</text>
<text class="fx" transform="translate(281.97 582.0) rotate(90)">Fx12</text>
<text class="fx" transform="translate(301.80 582.0) rotate(90)">Fx13</text>
<text class="fx" transform="translate(321.62 582.0) rotate(90)">Fx14</text>
<text class="fx" transform="translate(341.45 582.0) rotate(90)">Fx15</text>
<text class="fx" transform="translate(361.27 582.0) rotate(90)">Fx16</text>
<text class="fx" transform="translate(381.10 582.0) rotate(90)">Fx17</text>
<text class="fx" transform="translate(400.92 582.0) rotate(90)">Fx18</text>
<text class="fx" transform="translate(420.75 582.0) rotate(90)">Fx19</text>
<text class="fx" transform="translate(440.57 582.0) rotate(90)">Fx20</text>
<text class="fx" transform="translate(460.40 582.0) rotate(90)">Fx21</text>
<text class="fx" transform="translate(480.22 582.0) rotate(90)">Fx22</text>
<text class="fx" transform="translate(500.05 582.0) rotate(90)">Fx23</text>
<text class="fx" transform="translate(519.87 582.0) rotate(90)">Fx24</text>
<text class="fx" transform="translate(539.70 582.0) rotate(90)">Fx25</text>
<text class="fx" transform="translate(559.52 582.0) rotate(90)">Fx26</text>
<text class="fx" transform="translate(579.35 582.0) rotate(90)">Fx27</text>
<text class="fx" transform="translate(599.17 582.0) rotate(90)">Fx28</text>
<text class="ti" transform="translate(673.3 290.4) rotate(90)">Couch_Correction</text>
</svg></body></html>
